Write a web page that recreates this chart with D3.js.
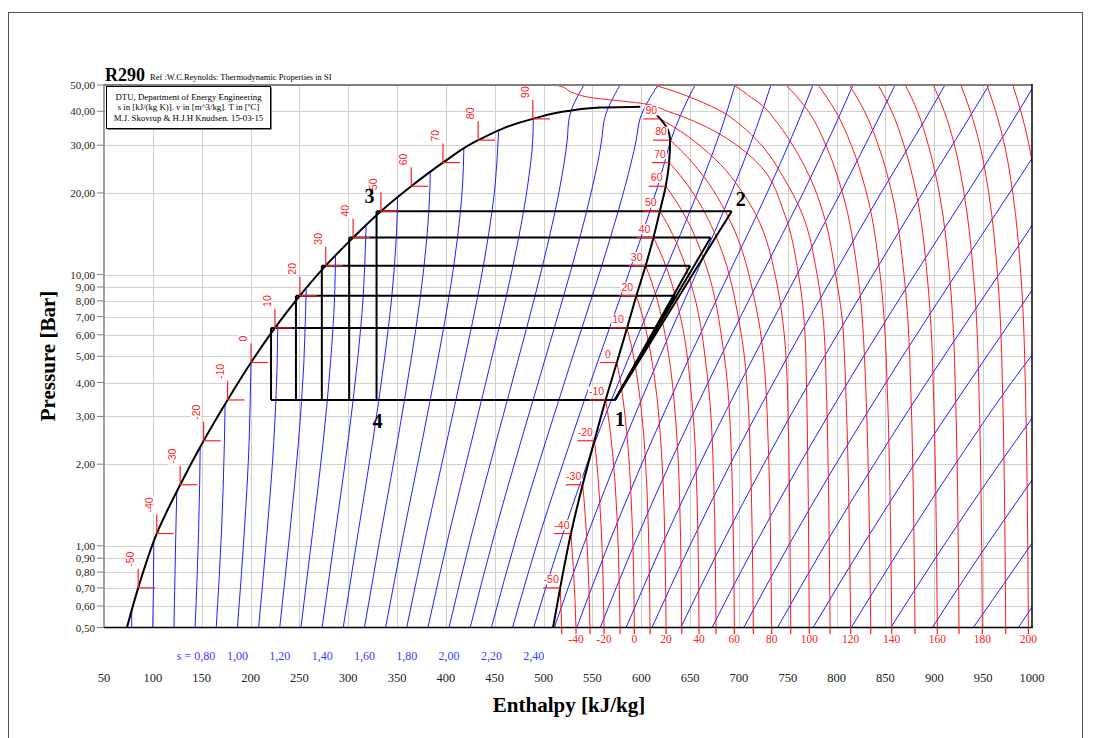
<!DOCTYPE html>
<html>
<head>
<meta charset="utf-8">
<script src="https://cdn.jsdelivr.net/npm/d3@7"></script>
<style>
  body { margin: 0; background: #fff; }
  svg { display: block; }
  text { font-family: "Liberation Serif", "Times New Roman", serif; }
  .mk { font-family: "Liberation Sans", Arial, sans-serif; font-size: 10.5px; fill: #ff2020; }
</style>
</head>
<body>
<div id="chart"></div>
<script>
// axis ticks
var hTicks = [50, 100, 150, 200, 250, 300, 350, 400, 450, 500, 550, 600, 650, 700, 750, 800, 850, 900, 950, 1000];
var pTicks = [0.5, 0.6, 0.7, 0.8, 0.9, 1, 2, 3, 4, 5, 6, 7, 8, 9, 10, 20, 30, 40, 50];

// saturation table (T in C, p in bar, h in kJ/kg)
var satT  = [-50, -40, -30, -20, -10, 0, 10, 20, 30, 40, 50, 60, 70, 80, 90];
var satP  = [0.70, 1.11, 1.68, 2.44, 3.45, 4.74, 6.36, 8.36, 10.79, 13.69, 17.13, 21.17, 25.87, 31.31, 37.5];
var satHl = [85, 104, 128, 152, 176.5, 200.5, 225, 250.5, 277, 305, 333.5, 364.5, 397, 433, 489];
var satHv = [517, 528, 540, 552, 563.5, 575, 585.5, 595, 604.5, 612.5, 619, 625, 628.5, 629.5, 619.5];
var liqBottom = [73.5, 0.5];
var liqTop = [[527, 40.2], [558, 41.3], [599, 41.6]];
var vapBottom = [509.7, 0.5];
var vapTop = [[616, 38.7]];

// isentropes, s in kJ/(kg K); each line is a list of [h, p]
var sVals = [0.5, 0.6, 0.7, 0.8, 0.9, 1.0, 1.1, 1.2, 1.3, 1.4, 1.5, 1.6, 1.7, 1.8, 1.9, 2.0, 2.1, 2.2, 2.3, 2.4,
             2.5, 2.6, 2.7, 2.8, 2.9, 3.0, 3.1, 3.2, 3.3, 3.4, 3.5, 3.6, 3.7, 3.8, 3.9];
var sLines = [
  [[78.3, 0.5], [78.4, 0.577]],
  [[99.9, 0.5], [100.6, 0.70], [101, 1.037]],
  [[121.6, 0.5], [123.5, 1.11], [124.5, 1.587]],
  [[143.3, 0.5], [146.8, 1.11], [147.9, 1.68], [148.5, 2.332]],
  [[164.9, 0.5], [170.2, 1.11], [173.3, 2.44], [174, 3.353]],
  [[186.6, 0.5], [193.5, 1.11], [198.6, 2.44], [199.7, 3.45], [200.5, 4.74]],
  [[208.3, 0.5], [216.8, 1.11], [223.9, 2.44], [227.3, 4.74], [227.9, 6.5]],
  [[229.9, 0.5], [240.1, 1.11], [249.2, 2.44], [254.6, 4.74], [256.8, 8.36], [257, 8.8]],
  [[251.6, 0.5], [263.4, 1.11], [274.5, 2.44], [281.9, 4.74], [286.1, 8.36], [287, 11.64]],
  [[273.3, 0.5], [286.7, 1.11], [299.9, 2.44], [309.3, 4.74], [315.4, 8.36], [317.9, 13.69], [318.3, 15.07]],
  [[294.9, 0.5], [310.0, 1.11], [325.2, 2.44], [336.6, 4.74], [344.7, 8.36], [349.2, 13.69], [350.6, 19.15]],
  [[316.6, 0.5], [333.4, 1.11], [350.5, 2.44], [363.9, 4.74], [374.0, 8.36], [380.5, 13.69], [383.7, 21.17], [384, 23.82]],
  [[338.3, 0.5], [356.7, 1.11], [375.8, 2.44], [391.2, 4.74], [403.4, 8.36], [411.9, 13.69], [417.0, 21.17], [418.4, 29.06]],
  [[359.9, 0.5], [380.0, 1.11], [401.1, 2.44], [418.5, 4.74], [432.7, 8.36], [443.2, 13.69], [450.3, 21.17], [453.5, 31.31], [454, 33.63]],
  [[381.6, 0.5], [403.3, 1.11], [426.4, 2.44], [445.8, 4.74], [462.0, 8.36], [474.5, 13.69], [483.6, 21.17], [488.9, 31.31], [489.5, 37.5]],
  [[403.2, 0.5], [426.6, 1.11], [451.7, 2.44], [473.2, 4.74], [491.3, 8.36], [505.8, 13.69], [516.9, 21.17], [524.2, 31.31], [526.1, 37.6], [541.4, 50]],
  [[424.9, 0.5], [449.9, 1.11], [477.0, 2.44], [500.5, 4.74], [520.6, 8.36], [537.1, 13.69], [550.2, 21.17], [559.5, 31.31], [562.4, 37.6], [578.3, 50]],
  [[446.6, 0.5], [473.2, 1.11], [502.4, 2.44], [527.8, 4.74], [549.9, 8.36], [568.4, 13.69], [583.5, 21.17], [594.8, 31.31], [598.8, 37.6], [617.2, 50]],
  [[468.2, 0.5], [496.5, 1.11], [527.7, 2.44], [555.1, 4.74], [579.2, 8.36], [599.7, 13.69], [616.9, 21.17], [623.8, 25.87], [629.4, 30.58], [642, 40], [655, 50]],
  [[489.9, 0.5], [519.9, 1.11], [537.0, 1.68], [549.2, 2.236], [587.8, 5], [622.7, 10], [657.4, 20], [682.6, 35], [696, 50]],
  [[511, 0.5], [540.6, 1], [572.9, 2], [619.1, 5], [655.8, 10], [692.1, 20], [718.1, 35], [732.8, 50]],
  [[534, 0.5], [565.8, 1], [600.4, 2], [649.8, 5], [689.2, 10], [728.8, 20], [758.4, 35], [775.8, 50]],
  [[558, 0.5], [592.1, 1], [628.9, 2], [681.5, 5], [723.4, 10], [765.7, 20], [797.7, 35], [816.8, 50]],
  [[584.5, 0.5], [620.8, 1], [659.8, 2], [715.4, 5], [759.5, 10], [804.0, 20], [838.5, 35], [859.8, 50]],
  [[611, 0.5], [649.6, 1], [691.1, 2], [750.1, 5], [797.3, 10], [845.4, 20], [886, 35], [911, 50]],
  [[640.5, 0.5], [681.5, 1], [725.4, 2], [787.6, 5], [837.3, 10], [888.0, 20], [930, 35], [956, 50]],
  [[672.5, 0.5], [715.9, 1], [762.2, 2], [827.7, 5], [880, 10], [933.7, 20], [976.4, 35], [1002.5, 50]],
  [[705, 0.5], [750.6, 1], [799.2, 2], [867.6, 5], [921.9, 10], [977, 20], [1000, 26.83], [1020, 35]],
  [[739.5, 0.5], [787.5, 1], [838.4, 2], [909.8, 5], [966, 10], [1000, 15.19], [1020, 20]],
  [[776, 0.5], [826.4, 1], [879.6, 2], [953.7, 5], [1000, 8.754], [1015, 10.5]],
  [[815, 0.5], [866.9, 1], [921.4, 2], [1000, 5.04], [1010, 5.6]],
  [[855.5, 0.5], [909.4, 1], [966.5, 2], [1000, 2.954]],
  [[898, 0.5], [953.2, 1], [1000, 1.746]],
  [[940, 0.5], [970.7, 0.72], [1000, 1.023]],
  [[986, 0.5], [1000, 0.594]]
];
var sLabelVals = [0.8, 1.0, 1.2, 1.4, 1.6, 1.8, 2.0, 2.2, 2.4];

// isotherms in the vapour / supercritical region, T in C
var isoT = [-50, -40, -30, -20, -10, 0, 10, 20, 30, 40, 50, 60, 70, 80, 90,
            100, 110, 120, 130, 140, 150, 160, 170, 180, 190, 200, 210, 220];
var isoLines = [
  [[518.6, 0.5], [517, 0.70]],
  [[533.2, 0.5], [530.5, 0.83], [528, 1.11]],
  [[547.5, 0.5], [545.6, 0.84], [542.9, 1.26], [541.2, 1.51], [540, 1.68]],
  [[561.9, 0.5], [558.7, 1.22], [555.5, 1.83], [553.5, 2.2], [552, 2.44]],
  [[578.3, 0.5], [573.1, 1.73], [568.5, 2.59], [565.6, 3.11], [563.5, 3.45]],
  [[592.9, 0.5], [590.8, 1.19], [586.2, 2.37], [580.9, 3.56], [577.4, 4.27], [575, 4.74]],
  [[609, 0.5], [605.9, 1.59], [600, 3.18], [593.1, 4.77], [588.6, 5.72], [585.5, 6.36]],
  [[625.4, 0.5], [624.6, 0.84], [621.1, 2.09], [613.5, 4.18], [604.7, 6.27], [599, 7.52], [595, 8.36]],
  [[641.4, 0.5], [640.2, 1.08], [635.9, 2.7], [626.8, 5.4], [616.2, 8.09], [609.3, 9.71], [604.5, 10.79]],
  [[659.1, 0.5], [657.4, 1.37], [651.9, 3.42], [640.6, 6.85], [627.2, 10.27], [618.5, 12.32], [612.5, 13.69]],
  [[676.5, 0.5], [674.2, 1.71], [667.5, 4.28], [653.5, 8.57], [637.1, 12.85], [626.4, 15.42], [619, 17.13]],
  [[695.3, 0.5], [692.3, 2.12], [684.1, 5.29], [667, 10.59], [647, 15.88], [634, 19.05], [625, 21.17]],
  [[714.7, 0.5], [710.9, 2.59], [700.9, 6.47], [679.8, 12.94], [655.4, 19.4], [639.5, 23.28], [628.5, 25.87]],
  [[733.5, 0.5], [728.8, 3.13], [716.8, 7.83], [691.4, 15.66], [662, 23.48], [642.8, 28.18], [629.5, 31.31]],
  [[753, 0.5], [749.7, 3.75], [738.5, 9.4], [709, 18.75], [668.8, 28.1], [640.2, 33.75], [619.5, 37.5]],
  [[772, 0.5], [768.5, 5], [761, 10], [746, 17], [723, 24.9], [701, 29.4], [680, 33], [653, 36.9], [627, 40], [602, 42.7], [575, 43.8], [551, 44.8], [530, 46.8], [517, 49.5], [512, 50]],
  [[793.3, 0.5], [788.5, 5], [780, 10], [764, 17], [745, 23], [723, 30], [700, 36], [682, 40], [657, 44], [633, 47.5], [613, 50]],
  [[814.4, 0.5], [807, 6], [799, 10], [788, 16], [777, 21], [755, 30], [740, 36], [724, 42], [709, 46], [695, 50]],
  [[834.9, 0.5], [828.5, 5], [821.7, 10], [806, 20], [789, 30], [771, 40], [760, 45], [748, 50]],
  [[856.4, 0.5], [850.7, 5], [844.5, 10], [830.6, 20], [815, 30], [799, 40], [781, 50]],
  [[880.2, 0.5], [874.8, 5], [869, 10], [856.5, 20], [842.6, 30], [828.6, 40], [813, 50]],
  [[903.1, 0.5], [898, 5], [892.6, 10], [881.5, 20], [868.9, 30], [856.4, 40], [842.5, 50]],
  [[925.3, 0.5], [920.6, 5], [915.5, 10], [905.1, 20], [893.9, 30], [882.8, 40], [870.3, 50]],
  [[949.2, 0.5], [944.8, 5], [940.1, 10], [930.4, 20], [920.6, 30], [910.2, 40], [899, 50]],
  [[973.1, 0.5], [969, 5], [964.7, 10], [955.7, 20], [946.6, 30], [936.9, 40], [927.1, 50]],
  [[996.3, 0.5], [992.5, 5], [988.6, 10], [980.3, 20], [971.9, 30], [962.8, 40], [953.8, 50]],
  [[1020, 0.5], [1016, 5], [1012.7, 10], [1004.7, 20], [997, 30], [988.6, 40], [980.3, 50]],
  [[1044.5, 0.5], [1040.5, 5], [1036.5, 10], [1028.5, 20], [1020.5, 30], [1011, 40], [1000.5, 50]]
];
var tLabelVals = [-40, -20, 0, 20, 40, 60, 80, 100, 120, 140, 160, 180, 200];

// refrigeration cycles: evaporation at -10 C, condensation at 10..50 C
var evapP = 3.45;
var h1 = 573;
var condP = [6.36, 8.36, 10.79, 13.69, 17.13];
var h3 = [221, 246.5, 273, 301, 329];
var h2 = [615.7, 634.6, 650, 671.1, 692.6];

var width = 1093, height = 738;
var svg = d3.select("#chart").append("svg")
  .attr("width", width)
  .attr("height", height);

var x = d3.scaleLinear().domain([50, 1000]).range([104, 1032]);
var y = d3.scaleLog().domain([0.5, 50]).range([627.5, 85]);
var commaFmt = function (v) { return d3.format(".2f")(v).replace(".", ","); };

// outer frame
svg.append("rect")
  .attr("x", 8.5).attr("y", 12.5)
  .attr("width", 1074).attr("height", 740)
  .attr("fill", "none").attr("stroke", "#555").attr("stroke-width", 1);

svg.append("clipPath").attr("id", "clip")
  .append("rect").attr("x", 104).attr("y", 85).attr("width", 928).attr("height", 542.5);

// grid
var grid = svg.append("g").attr("stroke", "#d0d0d0").attr("stroke-width", 1);
grid.selectAll("line.v").data(hTicks.slice(1, -1)).join("line").attr("class", "v")
  .attr("x1", d => Math.round(x(d)) + 0.5).attr("x2", d => Math.round(x(d)) + 0.5)
  .attr("y1", y(50)).attr("y2", y(0.5));
grid.selectAll("line.h").data(pTicks.slice(1, -1)).join("line").attr("class", "h")
  .attr("y1", d => Math.round(y(d)) + 0.5).attr("y2", d => Math.round(y(d)) + 0.5)
  .attr("x1", x(50)).attr("x2", x(1000));

var plot = svg.append("g").attr("clip-path", "url(#clip)");
var lineGen = d3.line()
  .x(d => x(d[0]))
  .y(d => y(d[1]))
  .curve(d3.curveMonotoneY);

// isentropes
plot.append("g").selectAll("path").data(sLines).join("path")
  .attr("d", lineGen)
  .attr("fill", "none").attr("stroke", "#2020ff").attr("stroke-width", 1);

// isotherms
plot.append("g").selectAll("path").data(isoLines).join("path")
  .attr("d", lineGen)
  .attr("fill", "none").attr("stroke", "#ff1a1a").attr("stroke-width", 1);

// saturation dome
var liqLine = [liqBottom].concat(satP.map((p, i) => [satHl[i], p]), liqTop);
var vapLine = [vapBottom].concat(satP.map((p, i) => [satHv[i], p]).slice(0, 14), [[627.5, 34.0], [satHv[14], satP[14]]], vapTop);
plot.append("path").attr("d", lineGen(liqLine))
  .attr("fill", "none").attr("stroke", "#000").attr("stroke-width", 2);
plot.append("path").attr("d", lineGen(vapLine))
  .attr("fill", "none").attr("stroke", "#000").attr("stroke-width", 2);

// cycles
var cyc = svg.append("g").attr("stroke", "#000").attr("stroke-width", 2).attr("fill", "none");
cyc.append("line")
  .attr("x1", x(d3.min(h3))).attr("x2", x(h1))
  .attr("y1", y(evapP)).attr("y2", y(evapP));
condP.forEach(function (p, i) {
  cyc.append("line").attr("x1", x(h3[i])).attr("x2", x(h2[i])).attr("y1", y(p)).attr("y2", y(p));
  cyc.append("line").attr("x1", x(h3[i])).attr("x2", x(h3[i])).attr("y1", y(p)).attr("y2", y(evapP));
  cyc.append("line").attr("x1", x(h1)).attr("x2", x(h2[i])).attr("y1", y(evapP)).attr("y2", y(p));
});

// saturation temperature markers
var marks = svg.append("g");
satT.forEach(function (t, i) {
  var X = x(satHl[i]), Y = y(satP[i]), Xv = x(satHv[i]);
  marks.append("line").attr("x1", X).attr("x2", X + 17).attr("y1", Y).attr("y2", Y)
    .attr("stroke", "#ff2020").attr("stroke-width", 1.2);
  marks.append("line").attr("x1", X).attr("x2", X).attr("y1", Y).attr("y2", Y - 19)
    .attr("stroke", "#ff2020").attr("stroke-width", 1.2);
  var g = marks.append("g").attr("transform", "translate(" + (X - 4) + "," + (Y - 21) + ") rotate(-90)");
  var tx = g.append("text").attr("class", "mk").attr("text-anchor", "start").text(t);
  var w = tx.node().getComputedTextLength();
  g.insert("rect", "text").attr("x", -1).attr("y", -8.5).attr("width", w + 2).attr("height", 10).attr("fill", "#fff");

  marks.append("line").attr("x1", Xv - 17).attr("x2", Xv).attr("y1", Y).attr("y2", Y)
    .attr("stroke", "#ff2020").attr("stroke-width", 1.2);
  var g2 = marks.append("g").attr("transform", "translate(" + (Xv - 9) + "," + (Y - 5) + ")");
  var tx2 = g2.append("text").attr("class", "mk").attr("text-anchor", "middle").text(t);
  var w2 = tx2.node().getComputedTextLength();
  g2.insert("rect", "text").attr("x", -w2 / 2 - 1).attr("y", -8.5).attr("width", w2 + 2).attr("height", 10).attr("fill", "#fff");
});

// cycle point labels
var pl = svg.append("g").style("font-family", "'Liberation Sans', Arial, sans-serif")
  .style("font-weight", "bold").style("font-size", "20px").attr("text-anchor", "middle");
pl.append("text").attr("x", x(h1) + 5).attr("y", y(evapP) + 26).text("1");
pl.append("text").attr("x", x(h2[4]) + 9).attr("y", y(condP[4]) - 5).text("2");
pl.append("text").attr("x", x(h3[4]) - 7).attr("y", y(condP[4]) - 8).text("3");
pl.append("text").attr("x", x(h3[4]) + 1).attr("y", y(evapP) + 28).text("4");

// plot borders
svg.append("line").attr("x1", x(50)).attr("x2", x(1000)).attr("y1", 85).attr("y2", 85)
  .attr("stroke", "#808080").attr("stroke-width", 2);
svg.append("line").attr("x1", 1032).attr("x2", 1032).attr("y1", 84).attr("y2", 628)
  .attr("stroke", "#000").attr("stroke-width", 1.5);
svg.append("line").attr("x1", 104).attr("x2", 104).attr("y1", 84).attr("y2", 628)
  .attr("stroke", "#808080").attr("stroke-width", 1.5);
svg.append("line").attr("x1", 104).attr("x2", 1033).attr("y1", 627.5).attr("y2", 627.5)
  .attr("stroke", "#000").attr("stroke-width", 1.5);

// y axis ticks and labels
var yAx = svg.append("g");
yAx.selectAll("line").data(pTicks).join("line")
  .attr("x1", 97).attr("x2", 104).attr("y1", d => y(d)).attr("y2", d => y(d))
  .attr("stroke", "#808080");
yAx.selectAll("text").data(pTicks).join("text")
  .attr("x", 95).attr("y", d => y(d) + 4).attr("text-anchor", "end")
  .style("font-size", "11px").attr("fill", "#222").text(commaFmt);

svg.append("text")
  .attr("transform", "translate(55,356) rotate(-90)")
  .attr("text-anchor", "middle")
  .style("font-size", "21px").style("font-weight", "bold")
  .text("Pressure [Bar]");

// bottom: temperature ticks and labels
var bot = svg.append("g");
bot.selectAll("line").data(isoLines.filter((d, i) => isoT[i] <= 200)).join("line")
  .attr("x1", d => x(d[0][0])).attr("x2", d => x(d[0][0]))
  .attr("y1", 627.5).attr("y2", 634)
  .attr("stroke", "#ff1a1a").attr("stroke-width", 1.2);
bot.selectAll("text.t").data(tLabelVals).join("text").attr("class", "t")
  .attr("x", t => x(isoLines[isoT.indexOf(t)][0][0]))
  .attr("y", 643).attr("text-anchor", "middle")
  .style("font-size", "11.5px").attr("fill", "#ff2020").text(t => t);

// entropy labels
bot.selectAll("text.s").data(sLabelVals).join("text").attr("class", "s")
  .attr("x", s => x(sLines[sVals.indexOf(s)][0][0]) + (s === 0.8 ? 20 : 0))
  .attr("y", 660).attr("text-anchor", s => s === 0.8 ? "end" : "middle")
  .style("font-size", "12px").attr("fill", "#3a3aff")
  .text(s => (s === 0.8 ? "s = " : "") + d3.format(".2f")(s).replace(".", ","));

// enthalpy labels
bot.selectAll("text.h").data(hTicks).join("text").attr("class", "h")
  .attr("x", h => x(h)).attr("y", 682).attr("text-anchor", "middle")
  .style("font-size", "12.5px").attr("fill", "#222").text(h => h);

svg.append("text").attr("x", 569).attr("y", 712).attr("text-anchor", "middle")
  .style("font-size", "21px").style("font-weight", "bold").text("Enthalpy [kJ/kg]");

// title and info box
svg.append("text").attr("x", 105).attr("y", 81)
  .style("font-size", "18px").style("font-weight", "bold").text("R290");
svg.append("text").attr("x", 150).attr("y", 80)
  .style("font-size", "8.5px").text("Ref :W.C.Reynolds: Thermodynamic Properties in SI");

svg.append("rect").attr("x", 107.5).attr("y", 87.5).attr("width", 164).attr("height", 42).attr("fill", "#000");
svg.append("rect").attr("x", 106.5).attr("y", 86.5).attr("width", 164).attr("height", 42)
  .attr("fill", "#fff").attr("stroke", "#000").attr("stroke-width", 1);
var info = ["DTU, Department of Energy Engineering",
            "s in [kJ/(kg K)]. v in [m^3/kg]. T in [\u00baC]",
            "M.J. Skovrup & H.J.H Knudsen. 15-03-15"];
svg.append("g").selectAll("text").data(info).join("text")
  .attr("x", 188.5).attr("y", (d, i) => 99.5 + i * 10.7).attr("text-anchor", "middle")
  .style("font-size", "8.8px").text(d => d);
</script>
</body>
</html>
